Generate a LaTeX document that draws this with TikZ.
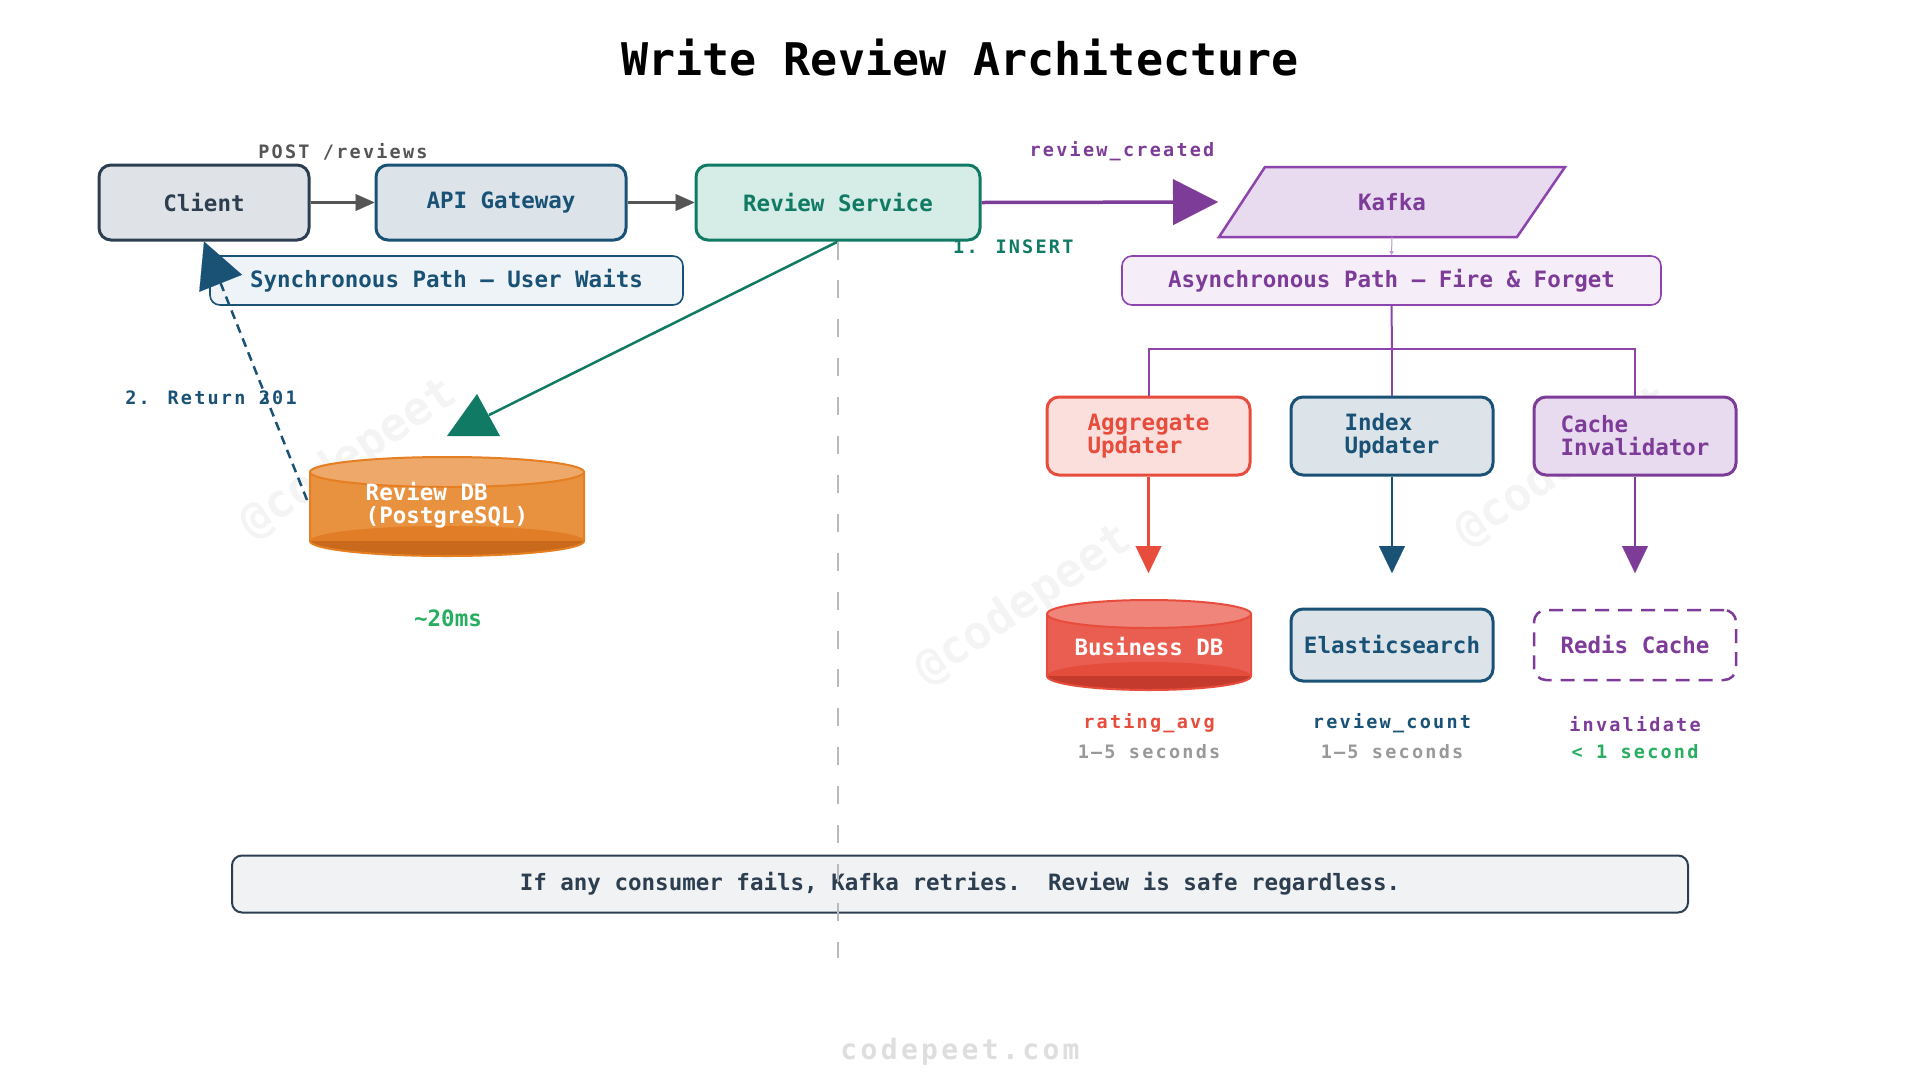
\documentclass[tikz,border=0pt]{standalone}
\usepackage{fontspec}
\setmainfont{DejaVu Sans Mono}
\newfontfamily\spc{DejaVu Sans Mono}[LetterSpace=12]
\usetikzlibrary{arrows.meta}
\definecolor{cdark}{HTML}{2C3E50}
\definecolor{cblue}{HTML}{1A5276}
\definecolor{cteal}{HTML}{117A65}
\definecolor{cpurp}{HTML}{7D3C98}
\definecolor{cpurpl}{HTML}{8E44AD}
\definecolor{cred}{HTML}{E74C3C}
\definecolor{cgreen}{HTML}{27AE60}
\definecolor{corange}{HTML}{E67E22}
\definecolor{cgrey}{HTML}{555555}
\definecolor{clientfill}{HTML}{DFE3E7}
\definecolor{bluefill}{HTML}{DCE4EA}
\definecolor{tealfill}{HTML}{D5EDE6}
\definecolor{purpfill}{HTML}{E8DAEF}
\definecolor{redfill}{HTML}{FADFDC}
\definecolor{syncfill}{HTML}{EEF3F7}
\definecolor{asyncfill}{HTML}{F5EEF8}
\definecolor{notefill}{HTML}{F0F2F4}
\definecolor{orbody}{HTML}{E8913F}
\definecolor{ortop}{HTML}{EDA86A}
\definecolor{ormid}{HTML}{E17D26}
\definecolor{ordark}{HTML}{C8691C}
\definecolor{rdbody}{HTML}{EA5E51}
\definecolor{rdtop}{HTML}{F0857C}
\definecolor{rdmid}{HTML}{E44C3C}
\definecolor{rddark}{HTML}{C43B2D}
\newcommand\bx{\fontsize{22.5}{23}\selectfont\bfseries}
\newcommand\sm{\spc\fontsize{18.5}{20}\selectfont\bfseries}
\begin{document}
\begin{tikzpicture}[x=1pt,y=-1pt,
  box/.style={rounded corners=12pt, line width=3pt, inner sep=0pt, font=\bx, align=left},
  twoline/.style={font=\fontsize{22.5}{23}\selectfont\bfseries},
  tagbox/.style={rounded corners=10pt, line width=1.6pt, inner sep=0pt, font=\bx},
  lbl/.style={font=\sm, inner sep=0pt},
  wm/.style={font=\fontsize{46}{46}\selectfont\bfseries, text=black, opacity=0.045, rotate=34},
  fl/.style={line width=3pt, draw=cgrey, -{Triangle[length=19pt,width=17pt,line width=0.1pt]}}
]
\useasboundingbox (0,0) rectangle (1920,1080);
\fill[white] (0,0) rectangle (1920,1080);

% watermarks
\node[wm] (wm1) at (349,459) {@codepeet};
\node[wm] (wm2) at (1024,605) {@codepeet};
\node[wm] (wm3) at (1564,467) {@codepeet};

% title
\node[font=\fontsize{45}{50}\selectfont\bfseries] (title) at (960,58) {Write Review Architecture};

% top row
\node[box, fill=clientfill, draw=cdark, text=cdark, minimum width=210pt, minimum height=75pt] (client) at (204,202.5) {Client};
\node[box, fill=bluefill, draw=cblue, text=cblue, minimum width=250pt, minimum height=75pt] (api) at (501,202.5) {API Gateway};
\node[box, fill=tealfill, draw=cteal, text=cteal, minimum width=284pt, minimum height=75pt] (rs) at (838,202.5) {Review Service};

\filldraw[fill=purpfill, draw=cpurpl, line width=2.5pt, line join=miter] (1265,167) -- (1565,167) -- (1517,237) -- (1219,237) -- cycle;
\node[font=\bx, text=cpurp] (kafka) at (1392,202) {Kafka};
\coordinate (kbot) at (1392,237);

\node[lbl, text=cgrey] (post) at (343,152) {POST /reviews};
\node[lbl, text=cpurp] (rc) at (1122,151) {review\_created};
\node[lbl, text=cteal, anchor=west] (ins) at (953,247) {1. INSERT};

\draw[fl] (client) -- (api);
\draw[fl] (api) -- (rs);
\coordinate (ktip) at (1218,202);
\draw[line width=3.5pt, cpurp, -{Triangle[length=45pt,width=46pt,line width=0.1pt]}] (rs.east) -- (ktip);

% path tag boxes
\node[tagbox, fill=syncfill, draw=cblue, text=cblue, minimum width=473pt, minimum height=49pt] (sync) at (446.5,280.5) {Synchronous Path — User Waits};
\node[tagbox, fill=asyncfill, draw=cpurpl, text=cpurp, minimum width=539pt, minimum height=49pt] (async) at (1391.5,280.5) {Asynchronous Path — Fire \& Forget};
\draw[cpurpl!55, line width=1pt, -{Triangle[length=4pt,width=4pt]}] (kbot) -- (async.north);

% Review DB cylinder
\fill[orbody] (310,472) -- (310,541) arc[start angle=180,end angle=360,x radius=137pt,y radius=15pt] -- (584,472) -- cycle;
\fill[ormid] (447,541) ellipse[x radius=137pt,y radius=15pt];
\fill[ordark] (310,541) arc[start angle=180,end angle=360,x radius=137pt,y radius=15pt] -- cycle;
\draw[corange, line width=2pt] (310,472) -- (310,541) arc[start angle=180,end angle=360,x radius=137pt,y radius=15pt] -- (584,472);
\filldraw[fill=ortop, draw=corange, line width=2pt] (447,472) ellipse[x radius=137pt,y radius=15pt];
\node[twoline, text=white, align=left, inner sep=0pt] (rdb) at (447,505) {Review DB\\(PostgreSQL)};
\node[font=\bx, text=cgreen] (ms) at (448,618) {\char`~20ms};

% sync connectors
\coordinate (rdbarr) at (489,415);
\draw[cteal, line width=2.5pt] (rs.south) -- (rdbarr);
\fill[cteal] (477,394) -- (447,436) -- (500,436) -- cycle;
\coordinate (retstart) at (307,500);
\draw[cblue, line width=2.5pt, dash pattern=on 9pt off 6pt, -{Triangle[length=45pt,width=46pt,line width=0.1pt]}] (retstart) -- (client.south);
\node[lbl, text=cblue] (ret) at (211,398) {2. Return 201};

% async tree
\node[box, twoline, fill=redfill, draw=cred, text=cred, minimum width=203pt, minimum height=78pt] (agg) at (1148.5,436) {Aggregate\\Updater};
\node[box, twoline, fill=bluefill, draw=cblue, text=cblue, minimum width=202pt, minimum height=78pt] (idx) at (1392,436) {Index\\Updater};
\node[box, twoline, fill=purpfill, draw=cpurp, text=cpurp, minimum width=202pt, minimum height=78pt] (cache) at (1635,436) {Cache\\Invalidator};
\coordinate (split) at (1392,349);
\draw[cpurpl, line width=2pt] (async.south) -- (split);
\draw[cpurpl, line width=2pt] (split) -| (agg.north);
\draw[cpurpl, line width=2pt] (split) -- (idx.north);
\draw[cpurpl, line width=2pt] (split) -| (cache.north);

\coordinate (aggtip) at (1148.5,573);
\coordinate (idxtip) at (1392,573);
\coordinate (cachetip) at (1635,573);
\draw[cred, line width=2.5pt, -{Triangle[length=27pt,width=26pt,line width=0.1pt]}] (agg.south) -- (aggtip);
\draw[cblue, line width=2.5pt, -{Triangle[length=27pt,width=26pt,line width=0.1pt]}] (idx.south) -- (idxtip);
\draw[cpurp, line width=2.5pt, -{Triangle[length=27pt,width=26pt,line width=0.1pt]}] (cache.south) -- (cachetip);

% Business DB cylinder
\fill[rdbody] (1047,614) -- (1047,676) arc[start angle=180,end angle=360,x radius=102pt,y radius=14pt] -- (1251,614) -- cycle;
\fill[rdmid] (1149,676) ellipse[x radius=102pt,y radius=14pt];
\fill[rddark] (1047,676) arc[start angle=180,end angle=360,x radius=102pt,y radius=14pt] -- cycle;
\draw[cred, line width=2pt] (1047,614) -- (1047,676) arc[start angle=180,end angle=360,x radius=102pt,y radius=14pt] -- (1251,614);
\filldraw[fill=rdtop, draw=cred, line width=2pt] (1149,614) ellipse[x radius=102pt,y radius=14pt];
\node[font=\bx, text=white] (bdb) at (1149,647) {Business DB};

\node[box, fill=bluefill, draw=cblue, text=cblue, minimum width=202pt, minimum height=72pt] (es) at (1392,645) {Elasticsearch};
\node[box, fill=white, draw=cpurp, text=cpurp, minimum width=202pt, minimum height=70pt, line width=2.5pt, dash pattern=on 14pt off 9pt] (redis) at (1635,645) {Redis Cache};

\node[lbl, text=cred] (ra) at (1149,723) {rating\_avg};
\node[lbl, text=black!40] (ra2) at (1149,752) {1–5 seconds};
\node[lbl, text=cblue] (rcnt) at (1392,723) {review\_count};
\node[lbl, text=black!40] (rcnt2) at (1392,752) {1–5 seconds};
\node[lbl, text=cpurp] (inv) at (1635,724) {invalidate};
\node[lbl, text=cgreen] (inv2) at (1635,752) {< 1 second};

% bottom note
\node[rounded corners=10pt, line width=2pt, fill=notefill, draw=cdark, text=cdark, font=\bx, minimum width=1456pt, minimum height=57pt, inner sep=0pt] (note) at (960,884) {\frenchspacing If any consumer fails, Kafka retries.\ \ Review is safe regardless.};

% divider
\coordinate (vend) at (838,958);
\draw[black!27, line width=1.5pt, dash pattern=on 18pt off 20.9pt] (rs.south) -- (vend);

\node[font=\spc\fontsize{28}{30}\selectfont\bfseries, text=black!13] (site) at (960,1052) {codepeet.com};
\end{tikzpicture}
\end{document}
